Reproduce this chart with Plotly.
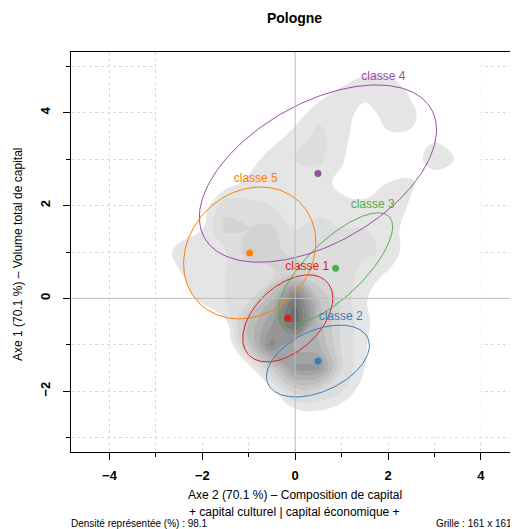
import numpy as np
import plotly.graph_objects as go

# density grid (0 = white, >1 = grey levels)
grid_x = [-3.0, -2.5, -2.0, -1.5, -1.0, -0.5, 0.0, 0.5, 1.0, 1.5, 2.0, 2.5, 3.0, 3.5, 4.0]
grid_y = [-3.0, -2.5, -2.0, -1.5, -1.0, -0.5, 0.0, 0.5, 1.0, 1.5, 2.0, 2.5, 3.0, 3.5, 4.0, 4.5, 5.0, 5.5]
density = [
    [0, 0, 0, 0, 0, 0, 0, 0, 0, 0, 0, 0, 0, 0, 0],
    [0, 0, 0, 0, 0, 0.2, 0.6, 0.8, 0.5, 0.1, 0, 0, 0, 0, 0],
    [0, 0, 0, 0, 0.2, 0.8, 2.2, 2.0, 1.5, 0.6, 0, 0, 0, 0, 0],
    [0, 0, 0, 0.1, 0.7, 2.6, 4.6, 4.6, 2.0, 1.0, 0.1, 0, 0, 0, 0],
    [0, 0, 0, 0.2, 2.8, 5.2, 3.8, 3.6, 1.9, 1.1, 0.2, 0, 0, 0, 0],
    [0, 0, 0.3, 0.9, 3.0, 4.4, 6.5, 3.2, 1.9, 1.2, 0.3, 0, 0, 0, 0],
    [0, 0.6, 1.2, 1.5, 1.8, 3.4, 5.8, 3.0, 1.8, 1.1, 0.3, 0, 0, 0, 0],
    [0.2, 0.9, 1.5, 1.5, 1.6, 1.9, 2.6, 2.0, 1.8, 1.3, 0.9, 0, 0, 0, 0],
    [0.3, 1.3, 1.5, 1.5, 2.2, 2.2, 1.8, 1.7, 1.7, 1.6, 1.4, 0.6, 0, 0, 0],
    [0, 0.5, 1.0, 2.1, 2.0, 2.1, 1.5, 1.6, 1.5, 1.5, 1.4, 0.6, 0, 0, 0],
    [0, 0, 0.6, 1.9, 1.6, 1.5, 1.5, 1.4, 1.2, 1.3, 1.5, 0.9, 0, 0, 0],
    [0, 0, 0, 0.6, 1.2, 1.5, 1.5, 1.3, 0.8, 0.3, 1.0, 1.1, 0.4, 0, 0],
    [0, 0, 0, 0, 0.6, 1.4, 1.5, 1.6, 1.1, 0.3, 0.3, 0.5, 1.5, 0.9, 0],
    [0, 0, 0, 0, 0, 0.6, 1.3, 1.6, 1.3, 0.4, 0.9, 0.9, 0.8, 0.6, 0],
    [0, 0, 0, 0, 0, 0, 0.6, 1.4, 1.4, 0.7, 1.3, 1.2, 0.3, 0, 0],
    [0, 0, 0, 0, 0, 0, 0, 0.5, 1.1, 1.4, 1.5, 0.8, 0, 0, 0],
    [0, 0, 0, 0, 0, 0, 0, 0, 0, 0.7, 0.6, 0, 0, 0, 0],
    [0, 0, 0, 0, 0, 0, 0, 0, 0, 0, 0, 0, 0, 0, 0],
]

classes = ["classe 1", "classe 2", "classe 3", "classe 4", "classe 5"]
colors = ["#E41A1C", "#377EB8", "#4DAF4A", "#984EA3", "#FF7F00"]
center_x = [-0.16, 0.49, 0.87, 0.49, -0.98]
center_y = [-0.43, -1.35, 0.65, 2.69, 0.98]
# ellipse shape (covariance-like terms)
ell_sxx = [0.94, 1.23, 1.51, 6.53, 2.03]
ell_syy = [0.88, 0.60, 1.43, 3.65, 2.02]
ell_sxy = [0.42, 0.37, 1.10, 2.41, 0.33]
label_x = [0.26, 0.98, 1.67, 1.90, -0.85]
label_y = [0.67, -0.40, 2.02, 4.78, 2.58]

font = "Liberation Sans, Arial, sans-serif"

fig = go.Figure()

fig.add_trace(go.Contour(
    x=grid_x, y=grid_y, z=density,
    contours=dict(coloring="fill", start=1, end=7, size=0.5, showlines=False),
    line=dict(width=0, smoothing=1.3),
    colorscale=[[0.0, "#FFFFFF"], [0.04, "#FFFFFF"], [0.0769, "#E5E5E5"], [0.1538, "#DDDDDD"],
                [0.2308, "#D3D3D3"], [0.3846, "#BCBCBC"], [0.5385, "#A3A3A3"],
                [0.6923, "#888888"], [0.8462, "#6C6C6C"], [1.0, "#505050"]],
    showscale=False, hoverinfo="skip",
))

t = np.linspace(0, 2 * np.pi, 240)
circle = np.vstack([np.cos(t), np.sin(t)])
for i in range(len(classes)):
    cov = np.array([[ell_sxx[i], ell_sxy[i]], [ell_sxy[i], ell_syy[i]]])
    pts = np.linalg.cholesky(cov) @ circle
    fig.add_trace(go.Scatter(
        x=pts[0] + center_x[i], y=pts[1] + center_y[i], mode="lines",
        line=dict(color=colors[i], width=1), hoverinfo="skip", showlegend=False,
    ))

fig.add_trace(go.Scatter(
    x=center_x, y=center_y, mode="markers",
    marker=dict(color=colors, size=7), showlegend=False,
))
fig.add_trace(go.Scatter(
    x=label_x, y=label_y, mode="text", text=classes,
    textfont=dict(color=colors, size=12, family=font), showlegend=False,
))

# axes through the origin
fig.add_hline(y=0, line=dict(color="#BDBDBD", width=1))
fig.add_vline(x=0, line=dict(color="#BDBDBD", width=1))

axis_common = dict(
    showline=True, linecolor="black", linewidth=1, automargin=False,
    ticks="outside", ticklen=7, tickcolor="black",
    tickfont=dict(family=font, size=13, color="black", weight="bold"),
    showgrid=True, gridcolor="#D9D9D9", griddash="dot", gridwidth=1,
    zeroline=False, dtick=2, tick0=0,
    minor=dict(dtick=1, ticks="outside", ticklen=4, tickcolor="black",
               showgrid=True, gridcolor="#D9D9D9", griddash="dot"),
)

fig.update_xaxes(range=[-4.83, 4.80], mirror=True, ticklabelstandoff=4, **axis_common)
fig.update_yaxes(range=[-3.31, 5.31], tickangle=-90, ticklabelstandoff=8, **axis_common)

# the page adds an 8px body margin, so the figure is 8px smaller each way
fig.update_layout(
    width=510, height=521,
    margin=dict(l=63, r=0, t=44, b=77),
    plot_bgcolor="white", paper_bgcolor="white",
    font=dict(family=font, color="black"),
    showlegend=False,
    title=dict(text="<b>Pologne</b>", x=0.5, xref="paper", y=1 - 10 / 521,
               xanchor="center", yanchor="middle", font=dict(size=14)),
    annotations=[
        dict(text="Axe 2 (70.1 %) – Composition de capital", xref="paper", yref="paper",
             x=0.501, y=-0.1075, xanchor="center", yanchor="middle",
             showarrow=False, font=dict(size=12)),
        dict(text="+ capital culturel | capital économique +", xref="paper", yref="paper",
             x=0.501, y=-0.15, xanchor="center", yanchor="middle",
             showarrow=False, font=dict(size=12)),
        dict(text="Axe 1 (70.1 %) – Volume total de capital", xref="paper", yref="paper",
             x=-0.1186, y=0.495, xanchor="center", yanchor="middle", textangle=-90,
             showarrow=False, font=dict(size=12)),
        dict(text="Densité représentée (%) : 98.1", xref="paper", yref="paper",
             x=-0.004, y=-0.1775, xanchor="left", yanchor="middle",
             showarrow=False, font=dict(size=10)),
        dict(text="Grille : 161 x 161", xref="paper", yref="paper",
             x=0.992, y=-0.1775, xanchor="right", yanchor="middle",
             showarrow=False, font=dict(size=10)),
    ],
)

fig.write_html("out.html")
